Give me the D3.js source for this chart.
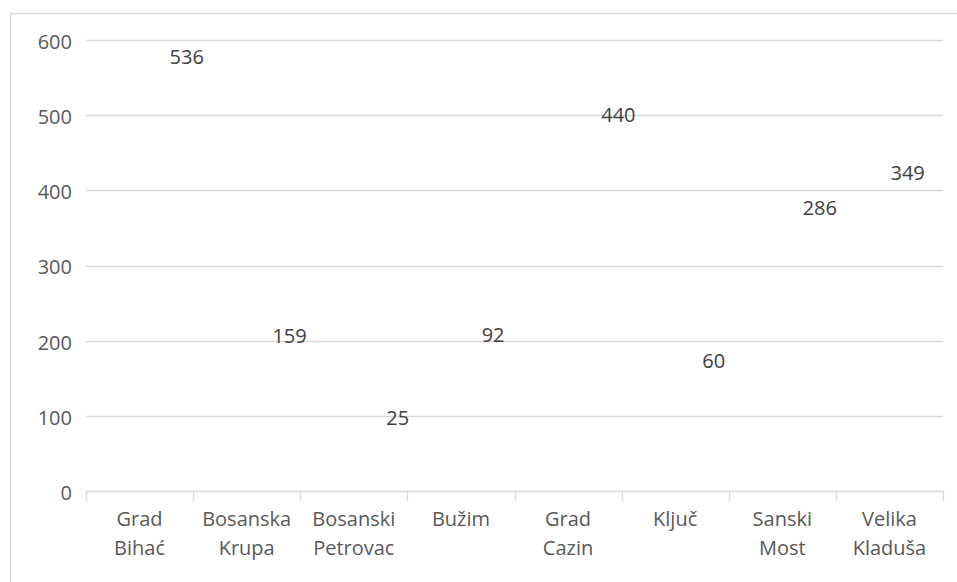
<!DOCTYPE html>
<html>
<head>
<meta charset="utf-8">
<script src="https://cdn.jsdelivr.net/npm/d3@7"></script>
<style>
  html, body { margin: 0; padding: 0; background: #ffffff; }
  svg { display: block; font-family: "Open Sans", "Noto Sans", sans-serif; }
</style>
</head>
<body>
<svg id="chart" width="957" height="582"></svg>
<script>
// ---- data ----
const categories = [
  ["Grad", "Bihać"],
  ["Bosanska", "Krupa"],
  ["Bosanski", "Petrovac"],
  ["Bužim"],
  ["Grad", "Cazin"],
  ["Ključ"],
  ["Sanski", "Most"],
  ["Velika", "Kladuša"]
];
const values = [536, 159, 25, 92, 440, 60, 286, 349];
const yTicks = [0, 100, 200, 300, 400, 500, 600];
// data labels were moved by hand in the original: offsets in value units / band fractions
const labelValueOffsets = [41, 47, 72, 116, 60, 113, 91, 74];
const labelBandShifts = [0.44, 0.40, 0.41, 0.30, 0.47, 0.36, 0.35, 0.17];

// ---- layout ----
const W = 957, H = 582;
const plot = { left: 86, right: 943, top: 40, bottom: 491 };
const gridColor = "#d9d9d9";

const svg = d3.select("#chart");

// outer chart frame (partially cropped)
svg.append("path")
  .attr("d", `M10.5,${H} L10.5,13.5 L${W},13.5`)
  .attr("fill", "none")
  .attr("stroke", gridColor)
  .attr("stroke-width", 1.3);

const keys = categories.map((c, i) => i);
const x = d3.scaleBand().domain(keys).range([plot.left, plot.right]).padding(0);
const y = d3.scaleLinear().domain([0, 600]).range([plot.bottom, plot.top]);

// gridlines
svg.append("g")
  .selectAll("line")
  .data(yTicks.filter(t => t > 0))
  .join("line")
  .attr("x1", plot.left).attr("x2", plot.right)
  .attr("y1", d => Math.round(y(d)) + 0.5).attr("y2", d => Math.round(y(d)) + 0.5)
  .attr("stroke", gridColor).attr("stroke-width", 1.3);

// y axis labels
const yAxis = d3.axisLeft(y).tickValues(yTicks).tickSize(0).tickPadding(14);
const gy = svg.append("g").attr("transform", `translate(${plot.left},0)`).call(yAxis);
gy.select(".domain").remove();
gy.selectAll("text")
  .attr("fill", "#595959")
  .attr("font-size", 20)
  .attr("font-family", "\"Open Sans\", sans-serif")
  .attr("dy", "0.42em");

// x axis line + ticks at band boundaries
const boundaries = keys.map(k => x(k)).concat([plot.right]);
const gx = svg.append("g");
gx.append("line")
  .attr("x1", plot.left).attr("x2", plot.right)
  .attr("y1", Math.round(y(0)) + 0.5).attr("y2", Math.round(y(0)) + 0.5)
  .attr("stroke", gridColor).attr("stroke-width", 1.3);
gx.selectAll("line.tick")
  .data(boundaries)
  .join("line")
  .attr("class", "tick")
  .attr("x1", d => Math.round(d) + 0.5).attr("x2", d => Math.round(d) + 0.5)
  .attr("y1", y(0)).attr("y2", y(0) + 10)
  .attr("stroke", gridColor).attr("stroke-width", 1.3);

// category labels (wrapped)
const catText = svg.append("g")
  .selectAll("text")
  .data(categories)
  .join("text")
  .attr("x", (d, i) => x(i) + x.bandwidth() / 2)
  .attr("y", 526)
  .attr("text-anchor", "middle")
  .attr("fill", "#595959")
  .attr("font-size", 20);
catText.selectAll("tspan")
  .data(d => d)
  .join("tspan")
  .attr("x", function () { return d3.select(this.parentNode).attr("x"); })
  .attr("dy", (d, j) => j === 0 ? 0 : 29)
  .text(d => d);

// data labels
svg.append("g")
  .selectAll("text")
  .data(values)
  .join("text")
  .attr("x", (d, i) => x(i) + x.bandwidth() * (0.5 + labelBandShifts[i]))
  .attr("y", (d, i) => y(d + labelValueOffsets[i]))
  .attr("dy", "0.36em")
  .attr("text-anchor", "middle")
  .attr("fill", "#404040")
  .attr("font-size", 20)
  .text(d => d);
</script>
</body>
</html>
